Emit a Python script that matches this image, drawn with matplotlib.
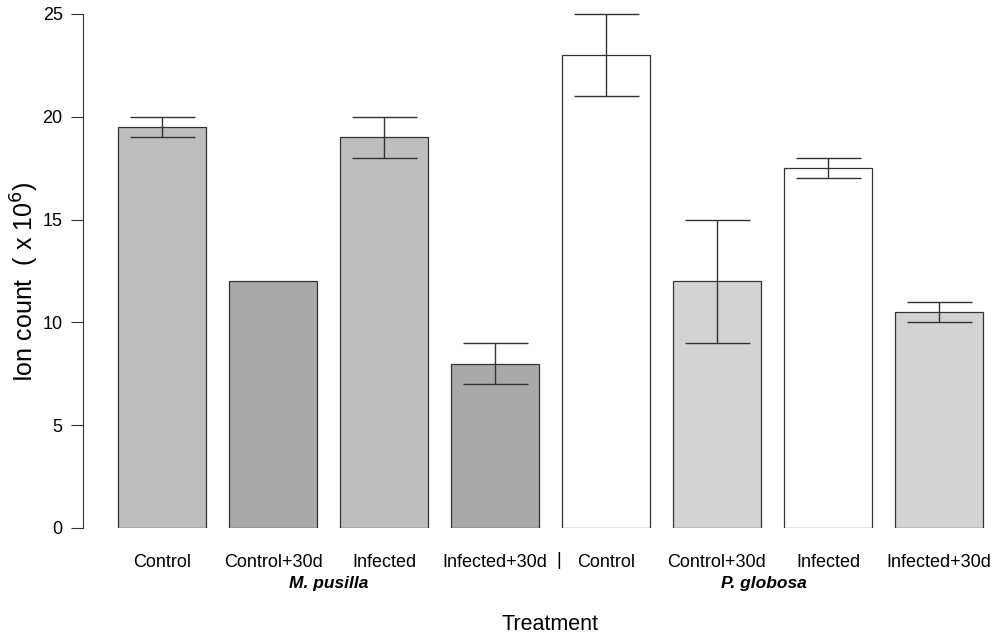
import matplotlib
matplotlib.use("Agg")
import matplotlib.pyplot as plt
import numpy as np

plt.rcParams['font.family'] = ['Liberation Sans', 'DejaVu Sans']

categories = ["Control", "Control+30d", "Infected", "Infected+30d",
              "Control", "Control+30d", "Infected", "Infected+30d"]
values = [19.5, 12.0, 19.0, 8.0, 23.0, 12.0, 17.5, 10.5]
err_low = [19.0, 12.0, 18.0, 7.0, 21.0, 9.0, 17.0, 10.0]
err_high = [20.0, 12.0, 20.0, 9.0, 25.0, 15.0, 18.0, 11.0]
colors = ["#BEBEBE", "#A9A9A9", "#BEBEBE", "#A9A9A9",
          "#FFFFFF", "#D3D3D3", "#FFFFFF", "#D3D3D3"]
species = ["M. pusilla", "P. globosa"]
species_pos = [1.5, 5.42]
yticks = [0, 5, 10, 15, 20, 25]

fig = plt.figure(figsize=(9.94, 6.35), dpi=100)
ax = fig.add_axes([83/994, (635-528)/635, (990-83)/994, (528-14)/635])

x = np.arange(len(values))
ax.bar(x, values, width=0.79, color=colors, edgecolor="#333333", linewidth=0.9)

vals = np.array(values)
lo = vals - np.array(err_low)
hi = np.array(err_high) - vals
has_err = (lo > 0) | (hi > 0)
ax.errorbar(x[has_err], vals[has_err], yerr=[lo[has_err], hi[has_err]],
            fmt="none", ecolor="#333333", elinewidth=1.0, capsize=23.4,
            capthick=1.0, clip_on=False)

ax.set_xlim(-0.712, 7.46)
ax.set_ylim(0, 25)
ax.set_yticks(yticks)
ax.set_yticklabels([str(t) for t in yticks], fontsize=13)
ax.tick_params(axis='y', length=8.6, width=0.8, color="#333333", pad=6)
ax.set_xticks(x)
ax.set_xticklabels(categories, fontsize=13)
ax.tick_params(axis='x', length=0, pad=19)

for s in ["top", "right", "bottom"]:
    ax.spines[s].set_visible(False)
ax.spines["left"].set_color("#333333")
ax.spines["left"].set_linewidth(0.8)

ax.text(3.575, -1.6, "|", ha="center", va="center", fontsize=13)
for name, pos in zip(species, species_pos):
    ax.text(pos, -2.7, name, ha="center", va="center", fontsize=12.5,
            fontweight="bold", fontstyle="italic")

ax.text(3.5, -4.7, "Treatment", ha="center", va="center", fontsize=15.5)
fig.text(25/994, 1 - 282/635, r"Ion count  ( x 10$^{6}$)", rotation=90,
         ha="center", va="center", fontsize=18)

fig.savefig("out.png", dpi=100)
